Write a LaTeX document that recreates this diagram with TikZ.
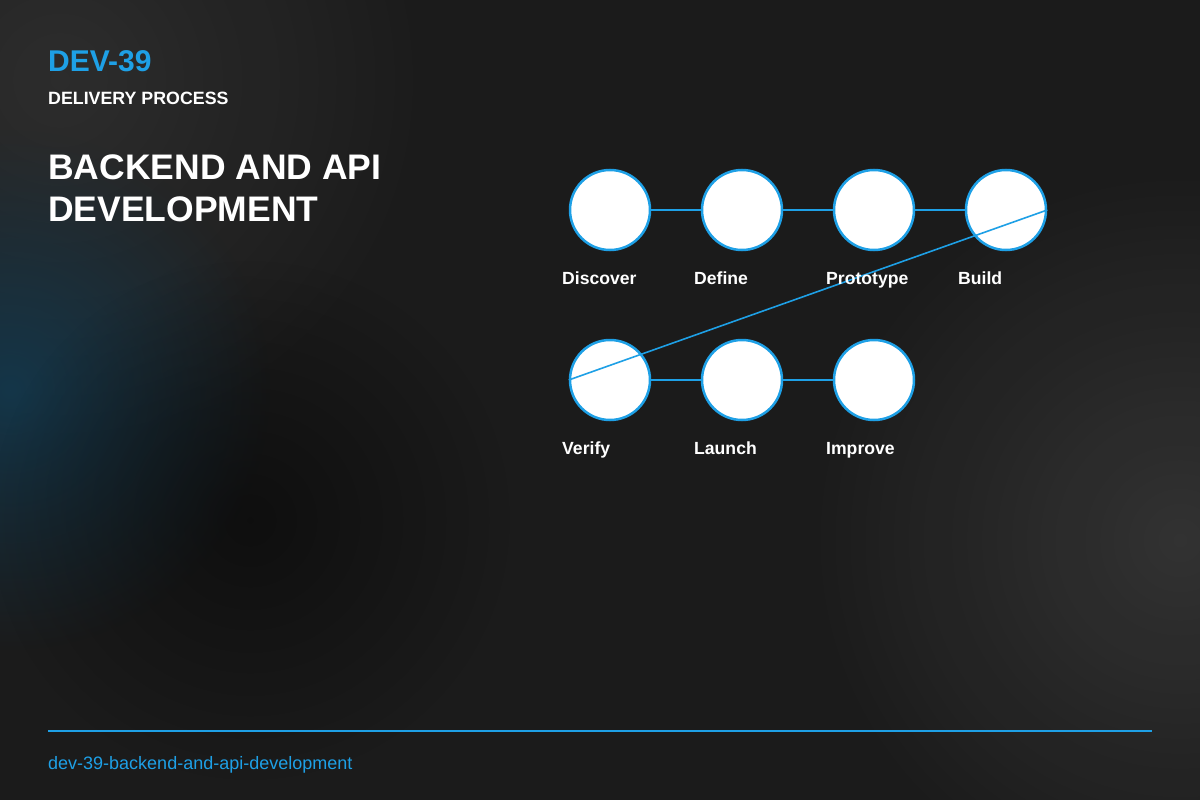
\documentclass[tikz,border=0pt]{standalone}
\usepackage{fontspec}
\setmainfont{Liberation Sans}
\usetikzlibrary{fadings}
\tikzfading[name=glow, inner color=transparent!0, outer color=transparent!100]
\begin{document}
\begin{tikzpicture}[x=1pt,y=-1pt,
  stepc/.style={circle,draw=accent,fill=white,line width=2.5pt,minimum size=80pt,inner sep=0pt},
  lab/.style={anchor=base west,text=white,font=\fontsize{17.6}{20}\selectfont\bfseries,inner sep=0pt},
  link/.style={draw=accent,line width=2.8pt},
  diag/.style={draw=accent,line width=1.6pt}]
\definecolor{accent}{HTML}{1EA0E6}
\definecolor{bg}{HTML}{1B1B1B}
\definecolor{glowblue}{RGB}{18,60,84}
\useasboundingbox (0,0) rectangle (1200,800);
\fill[bg] (0,0) rectangle (1200,800);
\begin{scope}
\clip (0,0) rectangle (1200,800);
\fill[white, opacity=0.08, path fading=glow] (60,80) circle (380);
\fill[glowblue, opacity=0.8, path fading=glow] (10,390) circle (260);
\fill[black, opacity=0.45, path fading=glow] (250,520) circle (260);
\fill[white, opacity=0.10, path fading=glow] (1180,540) circle (380);
\end{scope}
\node[anchor=base west,inner sep=0pt,text=accent,font=\fontsize{30}{34}\selectfont\bfseries] (t1) at (48,71) {DEV-39};
\node[anchor=base west,inner sep=0pt,text=white,font=\fontsize{17.8}{20}\selectfont\bfseries] (t2) at (48,104) {DELIVERY PROCESS};
\node[anchor=base west,inner sep=0pt,text=white,font=\fontsize{35.5}{40}\selectfont\bfseries] (t3) at (48,179) {BACKEND AND API};
\node[anchor=base west,inner sep=0pt,text=white,font=\fontsize{35.5}{40}\selectfont\bfseries] (t4) at (48,221) {DEVELOPMENT};
\node[stepc] (a) at (610,210) {};
\node[stepc] (b) at (742,210) {};
\node[stepc] (c) at (874,210) {};
\node[stepc] (d) at (1006,210) {};
\node[stepc] (e) at (610,380) {};
\node[stepc] (f) at (742,380) {};
\node[stepc] (g) at (874,380) {};
\draw[link] (a) -- (b); \draw[link] (b) -- (c); \draw[link] (c) -- (d);
\draw[link] (e) -- (f); \draw[link] (f) -- (g);
\draw[diag] (d.east) -- (e.west);
\node[lab] (la) at (562,284) {Discover};
\node[lab] (lb) at (694,284) {Define};
\node[lab] (lc) at (826,284) {Prototype};
\node[lab] (ld) at (958,284) {Build};
\node[lab] (le) at (562,454) {Verify};
\node[lab] (lf) at (694,454) {Launch};
\node[lab] (lg) at (826,454) {Improve};
\coordinate (r1) at (48,731); \coordinate (r2) at (1152,731);
\draw[accent,line width=1.5pt] (r1) -- (r2);
\node[anchor=base west,inner sep=0pt,text=accent,font=\fontsize{18}{20}\selectfont] (ft) at (48,769) {dev-39-backend-and-api-development};
\end{tikzpicture}
\end{document}
